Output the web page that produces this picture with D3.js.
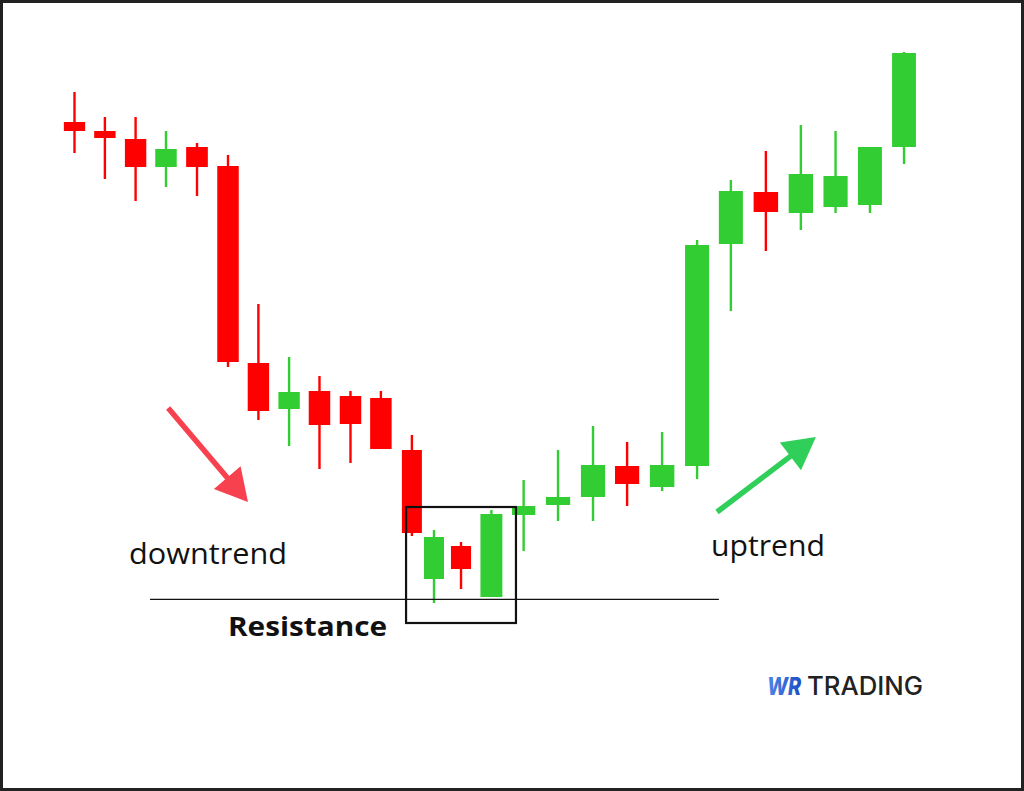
<!DOCTYPE html>
<html>
<head>
<meta charset="utf-8">
<script src="https://cdn.jsdelivr.net/npm/d3@7"></script>
<style>
  html, body { margin: 0; padding: 0; background: #fff; }
  svg { display: block; }
</style>
</head>
<body>
<svg id="chart" width="1024" height="791"></svg>
<script>
// ---- Data (session position, open, high, low, close) ----
const sessions = [0, 0.99, 1.99, 2.98, 3.99, 5.0, 5.99, 6.99, 7.98, 8.99, 9.98, 10.99,
  11.71, 12.59, 13.58, 14.63, 15.75, 16.89, 18.0, 19.14, 20.28, 21.38, 22.52, 23.66, 24.79, 25.91, 27.02];
const opens  = [115.6, 113.8, 112.2, 106.6, 110.6, 106.8, 67.4, 58.2, 61.8, 60.8, 60.4, 50.0,
  24.2, 30.8, 20.6, 37.0, 39.0, 40.6, 46.8, 42.6, 46.8, 91.2, 101.6, 97.4, 98.6, 99.0, 110.6];
const highs  = [121.6, 116.6, 116.6, 113.8, 111.4, 109.0, 79.2, 68.6, 64.8, 61.8, 61.8, 53.0,
  34.0, 31.6, 38.0, 44.0, 50.0, 54.8, 51.6, 53.6, 92.0, 104.0, 109.8, 115.0, 113.8, 110.6, 129.6];
const lows   = [109.4, 104.2, 99.8, 102.6, 100.8, 66.6, 56.0, 50.8, 46.2, 47.4, 50.2, 32.8,
  19.4, 22.2, 20.6, 29.8, 35.8, 35.8, 38.8, 41.8, 44.2, 77.8, 89.8, 94.0, 97.4, 97.4, 107.2];
const closes = [113.8, 112.4, 106.6, 110.2, 106.6, 67.6, 57.8, 61.6, 55.0, 55.2, 50.2, 33.4,
  32.6, 26.2, 37.2, 38.8, 40.6, 47.0, 43.2, 47.0, 91.0, 101.8, 97.6, 105.2, 104.8, 110.6, 129.4];

// annotations in data space
const resistanceLevel = 20.14;
const resistanceSpan = [2.46, 20.99];
const boxSpan = { t0: 10.8, t1: 14.38, p0: 15.4, p1: 38.6 };
const downArrow = { t0: 3.05, p0: 58.4, t1: 5.65, p1: 39.6 };
const upArrow = { t0: 20.93, p0: 37.6, t1: 24.15, p1: 52.6 };

const labels = { down: "downtrend", up: "uptrend", resistance: "Resistance", brandA: "WR", brandB: "TRADING" };

const candles = sessions.map((t, i) => ({ t, o: opens[i], h: highs[i], l: lows[i], c: closes[i] }));

// ---- Chart ----
const W = 1024, H = 791;
const svg = d3.select("#chart");

const x = d3.scaleLinear().domain([0, 1]).range([74.5, 105.2]);
const y = d3.scaleLinear().domain([0, 140]).range([700, 0]);

const RED = "#ff0000", GREEN = "#32cd32";

// frame
svg.append("rect").attr("x", 1.5).attr("y", 1.5).attr("width", W - 3).attr("height", H - 3)
  .attr("fill", "#fff").attr("stroke", "#222").attr("stroke-width", 3);

// candle widths from neighbor spacing
const xs = candles.map(d => x(d.t));
const widths = xs.map((v, i) => {
  const gl = i > 0 ? v - xs[i - 1] : xs[1] - xs[0];
  const gr = i < xs.length - 1 ? xs[i + 1] - v : gl;
  return Math.max(20, Math.min(25, 0.7 * (gl + gr) / 2));
});

const g = svg.append("g");
const cg = g.selectAll("g.candle").data(candles).join("g").attr("class", "candle");
cg.append("line")
  .attr("x1", d => x(d.t)).attr("x2", d => x(d.t))
  .attr("y1", d => y(d.h)).attr("y2", d => y(d.l))
  .attr("stroke", d => d.c >= d.o ? GREEN : RED).attr("stroke-width", 2.4);
cg.append("rect")
  .attr("x", (d, i) => x(d.t) - widths[i] / 2)
  .attr("width", (d, i) => widths[i])
  .attr("y", d => y(Math.max(d.o, d.c)))
  .attr("height", d => Math.max(1, Math.abs(y(d.o) - y(d.c))))
  .attr("fill", d => d.c >= d.o ? GREEN : RED);

// resistance line
svg.append("line")
  .attr("x1", x(resistanceSpan[0])).attr("x2", x(resistanceSpan[1]))
  .attr("y1", y(resistanceLevel)).attr("y2", y(resistanceLevel))
  .attr("stroke", "#111").attr("stroke-width", 1.2);

// highlight box
svg.append("rect")
  .attr("x", x(boxSpan.t0)).attr("y", y(boxSpan.p1))
  .attr("width", x(boxSpan.t1) - x(boxSpan.t0)).attr("height", y(boxSpan.p0) - y(boxSpan.p1))
  .attr("fill", "none").attr("stroke", "#111").attr("stroke-width", 2.2);

// arrows
function arrow(a, color) {
  const x0 = x(a.t0), y0 = y(a.p0), x1 = x(a.t1), y1 = y(a.p1);
  const dx = x1 - x0, dy = y1 - y0, len = Math.hypot(dx, dy);
  const ux = dx / len, uy = dy / len, px = -uy, py = ux;
  const headL = 32, headW = 17.5;
  const bx = x1 - ux * headL, by = y1 - uy * headL;
  svg.append("line").attr("x1", x0).attr("y1", y0).attr("x2", bx + ux * 4).attr("y2", by + uy * 4)
    .attr("stroke", color).attr("stroke-width", 5.5);
  svg.append("polygon")
    .attr("points", [[x1, y1], [bx + px * headW, by + py * headW], [bx - px * headW, by - py * headW]].map(p => p.join(",")).join(" "))
    .attr("fill", color);
}
arrow(downArrow, "#f8414f");
arrow(upArrow, "#30cf5a");

// labels
const font = "'Open Sans', 'Noto Sans', sans-serif";
svg.append("text").attr("x", 129).attr("y", 564).text(labels.down)
  .attr("font-family", font).attr("font-size", 29).attr("fill", "#111")
  .attr("textLength", 158).attr("lengthAdjust", "spacingAndGlyphs");
svg.append("text").attr("x", 711).attr("y", 556).text(labels.up)
  .attr("font-family", font).attr("font-size", 29).attr("fill", "#111")
  .attr("textLength", 114).attr("lengthAdjust", "spacingAndGlyphs");
svg.append("text").attr("x", 228).attr("y", 636).text(labels.resistance)
  .attr("font-family", font).attr("font-size", 27).attr("font-weight", 700).attr("fill", "#111")
  .attr("textLength", 159).attr("lengthAdjust", "spacingAndGlyphs");

// brand
const defs = svg.append("defs");
const grad = defs.append("linearGradient").attr("id", "wrgrad").attr("x1", "0").attr("x2", "1");
grad.append("stop").attr("offset", "0").attr("stop-color", "#4f86e8");
grad.append("stop").attr("offset", "1").attr("stop-color", "#1d4fc4");
svg.append("text").attr("x", 767).attr("y", 695).text(labels.brandA)
  .attr("font-family", "Inter, 'Open Sans', sans-serif").attr("font-size", 25).attr("font-weight", 800)
  .attr("font-style", "italic").attr("fill", "url(#wrgrad)")
  .attr("textLength", 34).attr("lengthAdjust", "spacingAndGlyphs");
svg.append("text").attr("x", 807).attr("y", 695).text(labels.brandB)
  .attr("font-family", "Inter, 'Open Sans', sans-serif").attr("font-size", 25).attr("font-weight", 500)
  .attr("fill", "#222").attr("textLength", 116).attr("lengthAdjust", "spacingAndGlyphs");
</script>
</body>
</html>
